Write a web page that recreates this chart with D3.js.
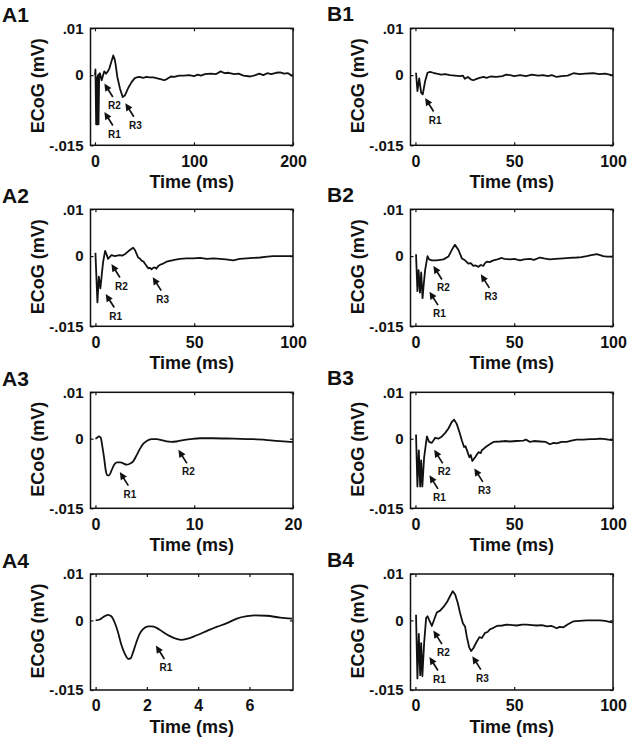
<!DOCTYPE html>
<html>
<head>
<meta charset="utf-8">
<script src="https://cdn.jsdelivr.net/npm/d3@7"></script>
<style>
  html, body { margin: 0; padding: 0; background: #fff; }
  svg { display: block; }
  text { font-family: "Liberation Sans", Arial, Helvetica, sans-serif; font-weight: bold; fill: #111; }
</style>
</head>
<body>
<svg id="chart" width="627" height="740"></svg>
<script>
// ---------------- DATA ----------------
const panelNames = ["A1", "A2", "A3", "A4", "B1", "B2", "B3", "B4"];
const yTickValues = [0.01, 0, -0.015];
const yTickLabels = [".01", "0", "-.015"];
const yLabel = "ECoG (mV)";
const xLabel = "Time (ms)";

const xTicksA1 = [0, 100, 200];
const xTicks100 = [0, 50, 100];
const xTicksA3 = [0, 10, 20];
const xTicksA4 = [0, 2, 4, 6];

const A1_t = [0, 0.5, 1.2, 1.8, 2.4, 3.0, 3.6, 4.3, 5.0, 6.8, 8.0, 9.4, 11.2, 13, 14.5, 16.5, 18.5, 20, 21, 22.6, 25.3, 28, 30.4, 33.7, 37, 40, 42, 45, 48.8, 52, 55, 59, 63, 67, 70, 73, 76.8, 80, 85, 90, 95, 100, 104, 107, 111, 117, 122, 127, 131, 135, 140.6, 145, 150, 157, 162, 166, 170, 174, 178, 183, 187, 191, 195, 198.7, 200];
const A1_v = [0, 0.0012, -0.0105, -0.0005, -0.0105, 0.0, -0.0105, 0.0003, 0.0004, -0.0011, -0.0002, 0.0008, 0.0003, 0.0008, 0.0014, 0.0028, 0.0042, 0.0033, 0.0021, -0.0004, -0.0029, -0.0047, -0.0043, -0.0027, -0.0015, -0.0007, -0.0005, -0.0004, -0.0006, -0.0004, -0.0005, -0.0005, -0.0007, -0.0009, -0.0011, -0.0008, -0.0003, -0.0004, -0.0001, -0.0001, 0.0, -0.0002, 0.0001, -0.0001, 0.0002, 0.0003, 0.0002, 0.0008, 0.0004, 0.0005, 0.0002, 0.0003, -0.0001, -0.0003, 0.0, 0.0003, 0.0, 0.0004, 0.0002, 0.0005, 0.0006, 0.0003, 0.0004, -0.0001, 0.0];

const A2_t = [0, 1.0, 1.7, 2.5, 3.2, 3.9, 4.9, 5.6, 6.4, 7.2, 8.1, 9.8, 11, 12.3, 13.5, 14.9, 16, 17.4, 19.1, 20, 21.6, 22.5, 23.4, 24.2, 25, 26.7, 27.5, 28.4, 29.2, 30.1, 30.8, 31.8, 33, 34.3, 36, 37.7, 40, 42.8, 46, 49.5, 53, 56.3, 60, 63, 66, 69.8, 73, 76.6, 80, 83.4, 87, 90, 95, 99.5, 100];
const A2_v = [0.0007, -0.0099, -0.0044, -0.0069, -0.004, -0.0012, 0.0011, 0.0004, -0.0006, -0.0002, 0.0002, 0.0, 0.0001, 0.0002, 0.0001, 0.0004, 0.0008, 0.0013, 0.0018, 0.0013, -0.0003, -0.0005, -0.001, -0.0011, -0.0016, -0.0026, -0.0025, -0.0028, -0.0025, -0.0024, -0.0027, -0.0021, -0.0018, -0.0016, -0.0012, -0.001, -0.0008, -0.0006, -0.0005, -0.0005, -0.0004, -0.0006, -0.0005, -0.0006, -0.0007, -0.0009, -0.0006, -0.0005, -0.0004, -0.0003, -0.0001, 0.0, 0.0, 0.0, 0.0];

const A3_t = [0, 0.16, 0.37, 0.54, 0.71, 0.87, 1.05, 1.22, 1.38, 1.62, 1.89, 2.19, 2.54, 2.8, 3.15, 3.48, 3.82, 4.16, 4.5, 4.83, 5.18, 5.69, 6.2, 6.7, 7.2, 7.7, 8.2, 8.9, 9.6, 10.6, 11.9, 14, 16, 18, 19.9, 20];
const A3_v = [0, 0.0002, 0.0005, 0.0002, -0.0018, -0.004, -0.0069, -0.0079, -0.0079, -0.0069, -0.0056, -0.0051, -0.0051, -0.0053, -0.0056, -0.0054, -0.0049, -0.0036, -0.0022, -0.0011, -0.0005, -0.0001, -0.0001, -0.0003, -0.0006, -0.0007, -0.0006, -0.0003, -0.0001, 0.0001, 0.0001, 0.0, -0.0001, -0.0004, -0.0007, -0.0007];

const A4_t = [0, 0.16, 0.29, 0.48, 0.61, 0.74, 0.87, 1.0, 1.14, 1.27, 1.36, 1.46, 1.59, 1.72, 1.85, 2.05, 2.18, 2.38, 2.63, 2.9, 3.16, 3.35, 3.55, 3.94, 4.33, 4.72, 5.12, 5.51, 5.9, 6.22, 6.68, 7.2, 7.66];
const A4_v = [0, 0.0002, 0.0007, 0.0012, 0.0009, -0.0004, -0.0025, -0.0052, -0.0072, -0.0083, -0.0082, -0.0069, -0.0047, -0.0029, -0.0019, -0.0013, -0.0013, -0.0016, -0.0025, -0.0034, -0.004, -0.0042, -0.004, -0.0032, -0.0023, -0.0014, -0.0006, 0.0004, 0.0009, 0.0011, 0.001, 0.0006, 0.0004];

const B1_t = [0.3, 1.0, 1.9, 2.9, 3.7, 4.9, 6.1, 7.4, 9, 10.8, 13, 15, 17.5, 20, 22.6, 24, 25, 26.5, 28, 29.3, 31, 32.5, 34.4, 36, 38, 41, 44, 46, 48, 50, 53, 56, 59, 62, 64.7, 67, 69, 71.5, 74, 77, 80, 83, 86, 90, 93, 96, 99.3, 100];
const B1_v = [0.0005, -0.0034, -0.0007, -0.0038, -0.0041, -0.0013, 0.0005, 0.0007, 0.0005, 0.0003, 0.0001, 0.0002, 0.0, -0.0001, -0.0002, -0.0001, -0.0008, -0.0004, -0.0009, -0.0011, -0.0008, -0.0006, -0.0004, -0.0006, -0.0003, -0.0004, -0.0002, 0.0001, 0.0, -0.0002, 0.0, -0.0002, 0.0001, -0.0001, 0.0, -0.0002, 0.0, -0.0004, -0.0002, -0.0001, 0.0004, 0.0002, 0.0003, 0.0004, 0.0002, 0.0003, 0.0, 0.0];

const B2_t = [0.3, 1.0, 1.6, 2.3, 2.9, 3.6, 4.2, 4.9, 6.1, 6.9, 8.3, 10.8, 12.5, 14.2, 16.7, 18.9, 20, 21.8, 23.5, 25.1, 26.8, 28, 29.3, 30.5, 31.9, 33, 34.4, 35.2, 36.1, 37.5, 39.5, 41.5, 43.7, 45, 47.9, 50, 53, 55, 58, 60, 63, 65, 68, 71, 74.9, 78, 81.6, 84, 86.7, 89, 91.8, 93.5, 95, 97, 99.3, 100];
const B2_v = [0.0004, -0.0075, -0.003, -0.0078, -0.0035, -0.009, -0.006, -0.003, 0.0, -0.0007, -0.0009, -0.0009, -0.0008, -0.0007, -0.0001, 0.0017, 0.0024, 0.0013, -0.0005, -0.0009, -0.0016, -0.0015, -0.0021, -0.002, -0.0023, -0.0019, -0.0021, -0.0015, -0.0012, -0.0013, -0.0009, -0.0007, -0.0004, -0.0006, -0.0007, -0.0006, -0.0009, -0.0007, -0.0006, -0.0008, -0.0003, -0.0005, -0.0007, -0.0006, -0.0005, -0.0004, -0.0003, -0.0002, 0.0, 0.0002, 0.0004, 0.0002, 0.0, -0.0001, -0.0001, 0.0];

const B3_t = [0.3, 1.0, 1.7, 2.4, 2.9, 3.5, 4.4, 5.8, 6.9, 8.3, 10, 11.6, 13.4, 15, 16.7, 18.4, 19.6, 20.9, 22.3, 23.5, 24.6, 25.3, 26, 27.3, 28, 28.8, 30.2, 31.9, 33, 33.6, 34.5, 35.2, 36.9, 38, 39.5, 42.8, 45, 47.9, 51, 54.6, 56, 58, 60, 63, 66, 68, 70, 71.5, 74, 76.6, 79, 81.6, 85, 88.4, 91, 93.4, 96, 99.3, 100];
const B3_v = [0.0009, -0.0103, -0.0025, -0.0103, -0.0047, -0.0103, -0.004, 0.0005, -0.0007, -0.0009, 0.0002, 0.0, 0.0005, 0.0012, 0.0022, 0.0036, 0.0041, 0.0032, 0.0014, -0.0004, -0.0018, -0.0016, -0.0024, -0.004, -0.0035, -0.0048, -0.004, -0.0029, -0.0031, -0.0025, -0.0022, -0.0019, -0.0014, -0.0011, -0.0007, -0.0006, -0.0005, -0.0006, -0.0005, -0.0004, -0.0002, -0.0007, -0.0005, -0.0006, -0.0007, -0.0012, -0.0009, -0.001, -0.0007, -0.0007, -0.0004, -0.0002, -0.0002, -0.0001, -0.0001, 0.0, -0.0001, -0.0003, -0.0002];

const B4_t = [0.3, 1.0, 1.7, 2.4, 2.9, 3.5, 4.4, 5.4, 6.1, 6.9, 8.3, 9.4, 10.8, 12.5, 14.2, 15.9, 17.5, 18.9, 20.1, 21.4, 22.6, 24, 25.1, 26, 27.2, 28.2, 29.3, 31, 32.4, 33.6, 35.2, 36.5, 37.8, 39.5, 41.2, 44, 46.2, 49, 51.3, 54, 56.4, 59, 61.4, 64, 66.5, 69, 71.5, 73, 74.9, 77, 80, 83, 86.7, 90, 93.4, 96, 99.3, 100];
const B4_v = [0.0012, -0.0125, -0.0029, -0.0118, -0.0049, -0.012, -0.0049, 0.0005, 0.0009, 0.0001, -0.0012, 0.0001, 0.0017, 0.0021, 0.0029, 0.0039, 0.0052, 0.0063, 0.0056, 0.0038, 0.0016, -0.0006, -0.0013, -0.0035, -0.0058, -0.0066, -0.006, -0.0046, -0.0036, -0.0038, -0.0027, -0.0025, -0.0019, -0.0016, -0.0012, -0.0011, -0.0009, -0.001, -0.0011, -0.0009, -0.0009, -0.001, -0.0011, -0.001, -0.0013, -0.0012, -0.0017, -0.0014, -0.0015, -0.0009, -0.0002, -0.0001, 0.0, 0.0, 0.0, -0.0001, -0.0004, -0.0003];

// Annotations (arrow tip positions in data units)
const A1_ann_labels = ["R1", "R2", "R3"]; const A1_ann_t = [9.5, 9.5, 30.7]; const A1_ann_v = [-0.0079, -0.0018, -0.006];
const A2_ann_labels = ["R1", "R2", "R3"]; const A2_ann_t = [5.2, 8.1, 29];   const A2_ann_v = [-0.0081, -0.0017, -0.0045];
const A3_ann_labels = ["R1", "R2"];       const A3_ann_t = [2.47, 8.4];     const A3_ann_v = [-0.0072, -0.0024];
const A4_ann_labels = ["R1"];             const A4_ann_t = [2.35];          const A4_ann_v = [-0.0054];
const B1_ann_labels = ["R1"];             const B1_ann_t = [4.9];           const B1_ann_v = [-0.0049];
const B2_ann_labels = ["R1", "R2", "R3"]; const B2_ann_t = [7.1, 9.1, 33.1]; const B2_ann_v = [-0.0076, -0.0021, -0.0039];
const B3_ann_labels = ["R1", "R2", "R3"]; const B3_ann_t = [7.1, 9.5, 29.8]; const B3_ann_v = [-0.0079, -0.0024, -0.0064];
const B4_ann_labels = ["R1", "R2", "R3"]; const B4_ann_t = [7.1, 9.1, 28.8]; const B4_ann_v = [-0.0079, -0.0022, -0.0077];

// ---------------- PANEL SETUP ----------------
const panels = [
  { name: "A1", t: A1_t, v: A1_v, xd: [-4.5, 200], xt: xTicksA1, smooth: false, al: A1_ann_labels, at: A1_ann_t, av: A1_ann_v, col: 0, row: 0 },
  { name: "A2", t: A2_t, v: A2_v, xd: [-2.5, 100], xt: xTicks100, smooth: false, al: A2_ann_labels, at: A2_ann_t, av: A2_ann_v, col: 0, row: 1 },
  { name: "A3", t: A3_t, v: A3_v, xd: [-0.5, 20], xt: xTicksA3, smooth: true, al: A3_ann_labels, at: A3_ann_t, av: A3_ann_v, col: 0, row: 2 },
  { name: "A4", t: A4_t, v: A4_v, xd: [-0.2, 7.7], xt: xTicksA4, smooth: true, al: A4_ann_labels, at: A4_ann_t, av: A4_ann_v, col: 0, row: 3 },
  { name: "B1", t: B1_t, v: B1_v, xd: [-2.5, 100], xt: xTicks100, smooth: false, al: B1_ann_labels, at: B1_ann_t, av: B1_ann_v, col: 1, row: 0 },
  { name: "B2", t: B2_t, v: B2_v, xd: [-2.5, 100], xt: xTicks100, smooth: false, al: B2_ann_labels, at: B2_ann_t, av: B2_ann_v, col: 1, row: 1 },
  { name: "B3", t: B3_t, v: B3_v, xd: [-2.5, 100], xt: xTicks100, smooth: false, al: B3_ann_labels, at: B3_ann_t, av: B3_ann_v, col: 1, row: 2 },
  { name: "B4", t: B4_t, v: B4_v, xd: [-2.5, 100], xt: xTicks100, smooth: false, al: B4_ann_labels, at: B4_ann_t, av: B4_ann_v, col: 1, row: 3 },
];

const colLeft = [90.5, 410.5];
const boxW = 202.5;
const rowTop = [28.3, 209.3, 392.3, 574];
const boxH = [117, 117, 116, 116];
const labelX = [2, 327];

const svg = d3.select("#chart");
const defs = svg.append("defs");

panels.forEach((p, i) => {
  const L = colLeft[p.col], T = rowTop[p.row], W = boxW, H = boxH[p.row];
  const x = d3.scaleLinear().domain(p.xd).range([L, L + W]);
  const y = d3.scaleLinear().domain([-0.015, 0.01]).range([T + H, T]);
  const g = svg.append("g");

  defs.append("clipPath").attr("id", "clip" + i)
    .append("rect").attr("x", L).attr("y", T).attr("width", W).attr("height", H);

  // data line
  const pts = p.t.map((t, k) => [t, p.v[k]]);
  const line = d3.line().x(d => x(d[0])).y(d => y(d[1]))
    .curve(p.smooth ? d3.curveMonotoneX : d3.curveLinear);
  g.append("path").datum(pts)
    .attr("clip-path", "url(#clip" + i + ")")
    .attr("d", line)
    .attr("fill", "none").attr("stroke", "#111")
    .attr("stroke-width", 1.8).attr("stroke-linejoin", "round");

  // axes
  const fmtY = d => yTickLabels[yTickValues.indexOf(d)];
  const ax = g.append("g").attr("transform", `translate(0,${T + H})`)
    .call(d3.axisBottom(x).tickValues(p.xt).tickSize(-3).tickPadding(10).tickFormat(d3.format("d")));
  const axT = g.append("g").attr("transform", `translate(0,${T})`)
    .call(d3.axisTop(x).tickValues(p.xt).tickSize(-3).tickFormat(""));
  const ay = g.append("g").attr("transform", `translate(${L},0)`)
    .call(d3.axisLeft(y).tickValues(yTickValues).tickSize(-3).tickPadding(7).tickFormat(fmtY));
  const ayR = g.append("g").attr("transform", `translate(${L + W},0)`)
    .call(d3.axisRight(y).tickValues(yTickValues).tickSize(-3).tickFormat(""));
  [ax, axT, ay, ayR].forEach(a => {
    a.select(".domain").remove();
    a.selectAll(".tick line").attr("stroke", "#111").attr("stroke-width", 1.2);
    a.selectAll(".tick text").attr("fill", "#111")
      .style("font-family", '"Liberation Sans", Arial, sans-serif').style("font-weight", "bold");
  });
  ax.selectAll(".tick text").style("font-size", "16px");
  ay.selectAll(".tick text").style("font-size", "15px");

  // box
  g.append("rect").attr("x", L).attr("y", T).attr("width", W).attr("height", H)
    .attr("fill", "none").attr("stroke", "#111").attr("stroke-width", 1.5);

  // axis titles
  g.append("text").attr("x", L + W / 2).attr("y", T + H + 43)
    .attr("text-anchor", "middle").style("font-size", "18px").text(xLabel);
  g.append("text").attr("transform", `translate(${L - 47},${T + H / 2 - 1}) rotate(-90)`)
    .attr("text-anchor", "middle").style("font-size", "18px").text(yLabel);

  // panel label
  g.append("text").attr("x", labelX[p.col]).attr("y", T - (p.col === 0 ? 6 : 7))
    .style("font-size", "21px").text(p.name);

  // annotations: arrow pointing up-left to (t, v), label below tail
  const dx = 8.5, dy = 13.5;              // tail offset from tip (px)
  const len = Math.hypot(dx, dy);
  const ux = dx / len, uy = dy / len;     // unit vector tip->tail
  const hl = 7.5, hw = 3.6;               // arrow head length / half width
  p.al.forEach((lab, k) => {
    const tx = x(p.at[k]), ty = y(p.av[k]);
    const bx = tx + ux * hl, by = ty + uy * hl;
    g.append("line").attr("x1", bx - ux * 1).attr("y1", by - uy * 1)
      .attr("x2", tx + dx).attr("y2", ty + dy)
      .attr("stroke", "#111").attr("stroke-width", 1.7);
    g.append("path")
      .attr("d", `M${tx},${ty} L${bx - uy * hw},${by + ux * hw} L${bx + uy * hw},${by - ux * hw} Z`)
      .attr("fill", "#111");
    g.append("text").attr("x", tx + 10).attr("y", ty + 25.5)
      .attr("text-anchor", "middle").style("font-size", "10px").text(lab);
  });
});
</script>
</body>
</html>
